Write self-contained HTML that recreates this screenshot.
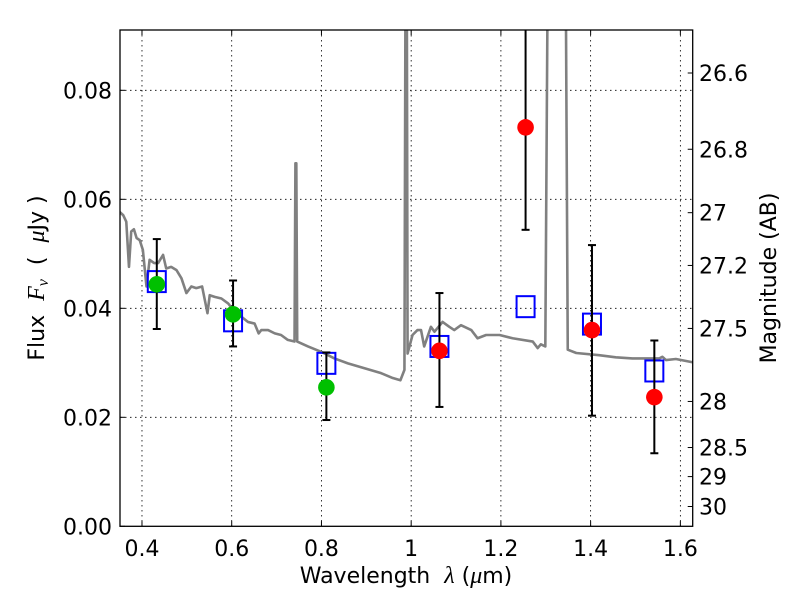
<!DOCTYPE html>
<html><head><meta charset="utf-8"><style>
body{margin:0;background:#fff;width:800px;height:600px;overflow:hidden}
svg{font-family:"DejaVu Sans","Liberation Sans",sans-serif}
</style></head><body>
<svg id="chart" width="800" height="600" xmlns="http://www.w3.org/2000/svg">
<defs><clipPath id="clip"><rect x="120" y="30" width="572.7" height="496.3"/></clipPath></defs>
<g id="grid"></g>
<g id="spec" clip-path="url(#clip)"></g>
<g id="marks" clip-path="url(#clip)"></g>
<rect x="120" y="30" width="572.7" height="496.3" fill="none" stroke="#000" stroke-width="1.3"/>
<g id="axes"></g>
<text x="406" y="583" font-size="22" text-anchor="middle">Wavelength&#160;&#160;<tspan font-family="Liberation Serif" font-style="italic" font-size="24">λ</tspan>&#160;(<tspan font-family="Liberation Serif" font-style="italic" font-size="24">μ</tspan>m)</text>
<text transform="translate(44,278) rotate(-90)" font-size="22" text-anchor="middle">Flux&#160;&#160;<tspan font-family="Liberation Serif" font-style="italic" font-size="24">F</tspan><tspan font-family="Liberation Serif" font-style="italic" font-size="16" dy="4">ν</tspan><tspan dy="-4">&#160;&#160;(&#160;&#160;</tspan><tspan font-family="Liberation Serif" font-style="italic" font-size="24">μ</tspan>Jy&#160;)</text>
<text transform="translate(776,278) rotate(-90)" font-size="22" text-anchor="middle">Magnitude (AB)</text>
</svg>
<script>
const xTicks=[0.4,0.6,0.8,1.0,1.2,1.4,1.6];
const xTickLabels=["0.4","0.6","0.8","1","1.2","1.4","1.6"];
const yTicks=[0,0.02,0.04,0.06,0.08];
const yTickLabels=["0.00","0.02","0.04","0.06","0.08"];
const magTicks=[26.6,26.8,27,27.2,27.5,28,28.5,29,30];
const magTickLabels=["26.6","26.8","27","27.2","27.5","28","28.5","29","30"];
const specWave=[0.350,0.358,0.365,0.371,0.376,0.382,0.388,0.395,0.402,0.410,0.417,0.427,0.436,0.447,0.454,0.465,0.477,0.488,0.499,0.510,0.521,0.534,0.546,0.551,0.562,0.577,0.592,0.606,0.621,0.636,0.651,0.660,0.666,0.681,0.696,0.710,0.725,0.740,0.742,0.744,0.746,0.770,0.800,0.829,0.859,0.896,0.933,0.959,0.976,0.985,0.989,0.992,1.003,1.014,1.022,1.029,1.044,1.052,1.070,1.085,1.096,1.111,1.134,1.148,1.167,1.197,1.226,1.271,1.282,1.289,1.299,1.312,1.338,1.349,1.368,1.419,1.456,1.493,1.553,1.560,1.568,1.590,1.627];
const specFlux=[0.0577,0.0571,0.0559,0.0476,0.0541,0.0545,0.0529,0.0525,0.0507,0.0440,0.0489,0.0483,0.0483,0.0498,0.0473,0.0476,0.0470,0.0455,0.0428,0.0440,0.0437,0.0440,0.0391,0.0424,0.0421,0.0418,0.0409,0.0394,0.0385,0.0375,0.0372,0.0354,0.0360,0.0360,0.0354,0.0351,0.0342,0.0339,0.0666,0.0666,0.0339,0.0330,0.0320,0.0308,0.0299,0.0290,0.0281,0.0272,0.0268,0.0287,0.1500,0.0317,0.0351,0.0360,0.0360,0.0330,0.0366,0.0357,0.0375,0.0366,0.0360,0.0369,0.0360,0.0345,0.0351,0.0351,0.0345,0.0339,0.0327,0.0334,0.0330,0.2000,0.2000,0.0324,0.0318,0.0314,0.0310,0.0308,0.0308,0.0311,0.0305,0.0307,0.0301];
const greenWave=[0.433,0.603,0.811];
const greenFlux=[0.0444,0.0389,0.0255];
const greenHi=[0.0527,0.0451,0.0319];
const greenLo=[0.0362,0.0330,0.0195];
const redWave=[1.063,1.255,1.403,1.542];
const redFlux=[0.0322,0.0732,0.0360,0.0237];
const redHi=[0.0428,0.0950,0.0516,0.0341];
const redLo=[0.0219,0.0544,0.0203,0.0134];
const modelWave=[0.433,0.603,0.811,1.063,1.255,1.403,1.542];
const modelFlux=[0.0449,0.0377,0.0299,0.0330,0.0403,0.0371,0.0285];

const X0=120,X1=692.7,Y0=526.3,Y1=30;
const xmin=0.351,xmax=1.6275,ymax=(Y0-Y1)/5450;
const sx=v=>X0+(v-xmin)/(xmax-xmin)*(X1-X0);
const sy=v=>Y0-v/ymax*(Y0-Y1);
const magY=m=>sy(Math.pow(10,(23.9-m)/2.5));
const NS="http://www.w3.org/2000/svg";
function mk(parent,tag,attrs){const e=document.createElementNS(NS,tag);for(const k in attrs)e.setAttribute(k,attrs[k]);parent.appendChild(e);return e;}
const grid=document.getElementById('grid'),axes=document.getElementById('axes'),spec=document.getElementById('spec'),marks=document.getElementById('marks');
xTicks.forEach((t,i)=>{const x=sx(t);
 const g=mk(grid,'line',{x1:x,x2:x,y1:Y1,y2:Y0,stroke:'#000','stroke-width':0.8,'stroke-dasharray':'1.5,3.5'});
 
 
 mk(axes,'line',{x1:x,x2:x,y1:Y0,y2:Y0-5,stroke:'#000'});
 mk(axes,'line',{x1:x,x2:x,y1:Y1,y2:Y1+5,stroke:'#000'});
 const l=mk(axes,'text',{x:x,y:556,'font-size':22,'text-anchor':'middle'});l.textContent=xTickLabels[i];
 
 
});
yTicks.forEach((t,i)=>{const y=sy(t);
 if(t>0){const g=mk(grid,'line',{x1:X0,x2:X1,y1:y,y2:y,stroke:'#000','stroke-width':0.8,'stroke-dasharray':'1.5,3.5'});
 
 }
 mk(axes,'line',{x1:X0,x2:X0+5,y1:y,y2:y,stroke:'#000'});
 const l=mk(axes,'text',{x:112,y:y+8,'font-size':22,'text-anchor':'end'});l.textContent=yTickLabels[i];
 
 
});
magTicks.forEach((m,i)=>{const y=magY(m);
 mk(axes,'line',{x1:X1,x2:X1-5,y1:y,y2:y,stroke:'#000'});
 const l=mk(axes,'text',{x:699,y:y+8,'font-size':22});l.textContent=magTickLabels[i];
 
 
});
const sp=mk(spec,'polyline',{points:specWave.map((w,i)=>sx(w)+','+sy(specFlux[i])).join(' '),fill:'none',stroke:'#808080','stroke-width':2.6,'stroke-linejoin':'round'});


function errbar(w,lo,hi){const x=sx(w);
 const e=mk(marks,'g',{stroke:'#000','stroke-width':2});
 
 
 mk(e,'line',{x1:x,x2:x,y1:sy(lo),y2:sy(hi)});
 mk(e,'line',{x1:x-4,x2:x+4,y1:sy(lo),y2:sy(lo)});
 mk(e,'line',{x1:x-4,x2:x+4,y1:sy(hi),y2:sy(hi)});}
modelWave.forEach((w,i)=>{
 const r=mk(marks,'rect',{x:sx(w)-9,y:sy(modelFlux[i])-10.5,width:18,height:21,fill:'none',stroke:'#0000ff','stroke-width':2});
 
 
});
greenWave.forEach((w,i)=>{errbar(w,greenLo[i],greenHi[i]);
 const c=mk(marks,'circle',{cx:sx(w),cy:sy(greenFlux[i]),r:8.3,fill:'#00c000'});
 
 
});
redWave.forEach((w,i)=>{errbar(w,redLo[i],redHi[i]);
 const c=mk(marks,'circle',{cx:sx(w),cy:sy(redFlux[i]),r:8.3,fill:'#ff0000'});
 
 
});
</script>
</body></html>
